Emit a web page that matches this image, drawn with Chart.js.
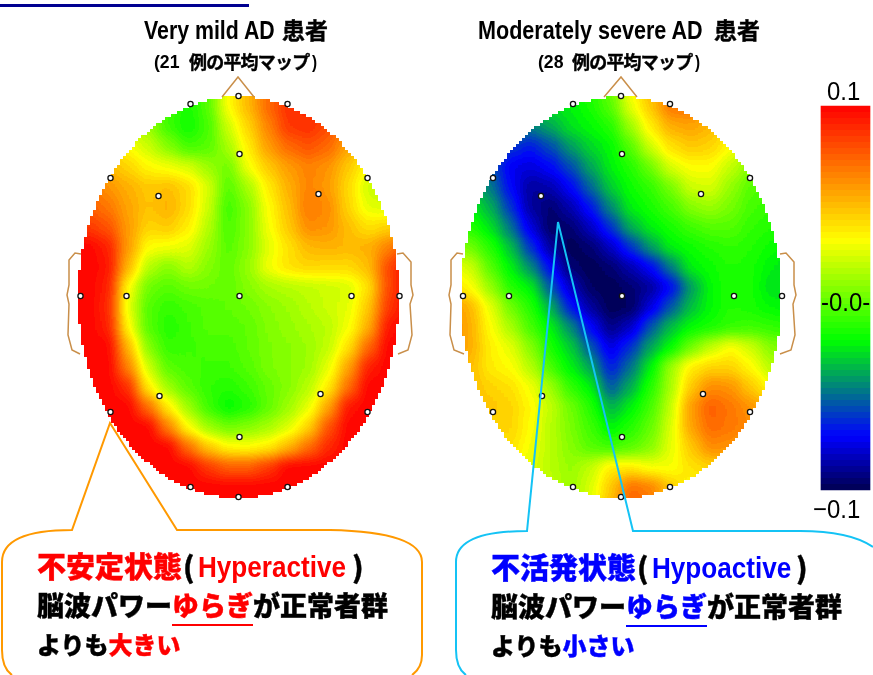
<!DOCTYPE html>
<html lang="ja">
<head>
<meta charset="utf-8">
<title>Very mild AD / Moderately severe AD</title>
<script src="https://cdn.jsdelivr.net/npm/chart.js@4"></script>
<style>
  html, body { margin: 0; background: #fff; }
  #wrap { position: relative; width: 873px; height: 675px; overflow: hidden; }
  canvas { position: absolute; left: 0; top: 0; }
  svg { position: absolute; left: 0; top: 0; }
  .t { position: absolute; white-space: nowrap; color: #000; line-height: 1;
       font-family: "Liberation Sans", sans-serif; font-weight: 700; }
  .l { transform-origin: 0 0; }
  .jp { font-family: "Noto Sans CJK JP", sans-serif; font-weight: 900; -webkit-text-stroke: 0.4px currentColor; }
  .red { color: #f00; }
  .blue { color: #00f; }
  .bar { font-weight: 400; font-size: 26px; transform: scaleX(.92); transform-origin: 0 0; }
  #rule { position: absolute; left: 0; top: 4px; width: 249px; height: 3px; background: #000090; }
</style>
</head>
<body>
<div id="wrap">
  <canvas id="map" width="873" height="675"></canvas>
  <svg width="873" height="675">
    <!-- nose and ears -->
    <g fill="none" stroke="#c98f4a" stroke-width="1.5">
      <path d="M222 97 L238 77 L254 97"/>
      <path d="M81 254 L75 253 L69 260 L69 285 L67 295 L69 304 L68 335 L72 350 L80 354"/>
      <path d="M397 254 L403 253 L411 262 L411 285 L413 295 L410 304 L412 335 L408 350 L398 354"/>
      <path d="M604 97 L621 77 L637 97"/>
      <path d="M463 254 L457 253 L451 260 L451 285 L449 295 L451 304 L450 335 L454 350 L464 354"/>
      <path d="M780 254 L786 253 L794 262 L794 285 L796 295 L793 304 L795 335 L791 350 L780 354"/>
    </g>
    <path d="M12 675 Q2 668 2 650 L2 562 Q2 530 72 530 L110 423 L177 530 L330 530 Q422 532 422 562 L422 655 Q422 668 412 675"
          fill="none" stroke="#f90" stroke-width="2"/>
    <path d="M466 675 Q456 668 456 650 L456 562 Q456 531 527 531 L558 222 L633 531 L800 531 Q850 531 873 547"
          fill="none" stroke="#14c3f5" stroke-width="2"/>
  </svg>
  <div id="rule"></div>

  <div class="t l" style="left:144px;top:17px;font-size:26px;transform:scaleX(.82)">Very mild AD</div>
  <div class="t jp" style="left:282px;top:18px;font-size:23px;font-weight:700">患者</div>
  <div class="t l" style="left:154px;top:53px;font-size:18px;transform:scaleX(.98)">(21</div>
  <div class="t jp" style="left:189px;top:52px;font-size:18px;font-weight:700;letter-spacing:-.8px">例の平均マップ</div>
  <div class="t l" style="left:312px;top:53px;font-size:18px;transform:scaleX(.85)">)</div>

  <div class="t l" style="left:478px;top:17px;font-size:26px;transform:scaleX(.83)">Moderately severe AD</div>
  <div class="t jp" style="left:714px;top:18px;font-size:23px;font-weight:700">患者</div>
  <div class="t l" style="left:538px;top:53px;font-size:18px;transform:scaleX(.98)">(28</div>
  <div class="t jp" style="left:572px;top:52px;font-size:18px;font-weight:700;letter-spacing:-.8px">例の平均マップ</div>
  <div class="t l" style="left:695px;top:53px;font-size:18px;transform:scaleX(.85)">)</div>

  <div class="t bar" style="left:827px;top:78px">0.1</div>
  <div class="t bar" style="left:821px;top:289px">-0.0-</div>
  <div class="t bar" style="left:813px;top:496px">−0.1</div>

  <div class="t jp red" style="left:37px;top:551px;font-size:29px">不安定状態</div>
  <div class="t jp" style="left:183px;top:551px;font-size:29px">(</div>
  <div class="t l red" style="left:198px;top:553px;font-size:29px;transform:scaleX(.9)">Hyperactive</div>
  <div class="t jp" style="left:352px;top:551px;font-size:29px">)</div>
  <div class="t jp" style="left:37px;top:591px;font-size:27px">脳波パワー<span class="red" style="border-bottom:2px solid #f00">ゆらぎ</span>が正常者群</div>
  <div class="t jp" style="left:37px;top:632px;font-size:24px">よりも<span class="red">大きい</span></div>

  <div class="t jp blue" style="left:491px;top:552px;font-size:29px">不活発状態</div>
  <div class="t jp" style="left:637px;top:552px;font-size:29px">(</div>
  <div class="t l blue" style="left:652px;top:554px;font-size:29px;transform:scaleX(.9)">Hypoactive</div>
  <div class="t jp" style="left:796px;top:552px;font-size:29px">)</div>
  <div class="t jp" style="left:491px;top:592px;font-size:27px">脳波パワー<span class="blue" style="border-bottom:2px solid #00f">ゆらぎ</span>が正常者群</div>
  <div class="t jp" style="left:491px;top:633px;font-size:24px">よりも<span class="blue">小さい</span></div>
</div>

<script>
// === DATA ===
// offsets of the grid cells from the middle of a head
const cellOffsetX = [-170,-150,-130,-110,-90,-70,-50,-30,-10,10,30,50,70,90,110,130,150,170];
const cellOffsetY = [-210,-190,-170,-150,-130,-110,-90,-70,-50,-30,-10,10,30,50,70,90,110,130,150,170,190,210];

// map values x 1000 (scale runs -100 to 100)
const veryMildValues = [
  [20,20,20,20,10,-10,-15,-5,30,50,70,85,85,80,60,40,30,30],
  [30,30,30,25,10,-10,-18,-5,30,50,72,88,88,80,60,40,30,30],
  [40,40,30,20,10,-10,-20,-8,20,42,65,85,88,80,60,40,30,30],
  [50,50,40,30,20,5,-8,-5,12,35,58,72,78,72,55,40,30,30],
  [60,60,50,42,32,28,22,10,0,28,45,58,65,60,45,30,20,20],
  [70,70,60,52,45,48,40,22,-5,12,35,52,65,58,40,20,15,15],
  [75,75,68,55,47,52,40,20,-10,5,30,48,68,62,42,25,22,25],
  [85,85,78,58,42,45,35,15,-8,5,28,45,62,60,48,38,42,50],
  [100,100,92,58,30,28,25,10,-5,5,24,38,50,52,50,52,65,80],
  [100,100,95,50,15,5,15,5,-3,8,28,38,42,40,40,48,80,100],
  [100,100,92,30,0,-5,0,0,-3,5,12,15,18,20,22,38,80,100],
  [100,100,90,25,-5,-12,-8,-5,-3,0,6,10,15,20,25,45,85,100],
  [100,100,92,32,-5,-15,-10,-5,-5,-3,4,8,12,16,28,52,95,100],
  [100,100,100,50,5,-12,-10,-8,-8,-3,3,6,10,18,38,72,100,100],
  [100,100,100,65,20,-4,-8,-10,-10,-5,3,6,10,25,55,92,100,100],
  [100,100,100,88,35,10,-4,-12,-15,-10,-2,5,15,35,70,100,100,100],
  [100,100,100,100,70,35,10,-10,-22,-15,-3,10,25,55,95,100,100,100],
  [100,100,100,100,100,65,30,10,0,5,12,22,42,78,100,100,100,100],
  [100,100,100,100,100,100,70,45,32,30,35,50,70,90,100,100,100,100],
  [100,100,100,100,100,100,100,85,75,75,85,100,100,100,100,100,100,100],
  [100,100,100,100,100,100,100,100,100,100,100,100,100,100,100,100,100,100],
  [100,100,100,100,100,100,100,100,100,100,100,100,100,100,100,100,100,100]
];

const modSevereValues = [
  [-15,-15,-15,-15,-18,-20,-20,-15,0,30,50,65,60,45,30,10,5,5],
  [-15,-15,-20,-25,-25,-28,-25,-18,-5,25,45,68,68,50,35,15,5,5],
  [-25,-25,-30,-40,-48,-40,-28,-22,-15,10,35,52,55,50,35,20,5,5],
  [-30,-35,-45,-62,-68,-58,-42,-30,-22,-5,20,38,45,42,30,15,5,5],
  [-35,-40,-55,-75,-78,-72,-58,-40,-25,-15,0,22,30,30,18,5,0,0],
  [-30,-35,-48,-72,-88,-85,-72,-52,-32,-20,-12,2,20,22,8,-5,-5,-5],
  [-20,-25,-38,-62,-88,-95,-85,-68,-45,-25,-18,-8,5,10,2,-8,-12,-12],
  [-10,-15,-28,-50,-78,-98,-95,-82,-62,-38,-25,-18,-10,-5,-5,-12,-15,-18],
  [8,0,-15,-35,-62,-88,-100,-95,-82,-62,-42,-25,-20,-15,-12,-15,-20,-25],
  [28,20,-5,-25,-45,-72,-95,-100,-95,-85,-72,-48,-25,-20,-15,-18,-25,-28],
  [42,30,8,-15,-25,-55,-82,-98,-100,-95,-88,-72,-42,-22,-15,-18,-28,-30],
  [62,50,25,0,-15,-38,-68,-88,-100,-98,-78,-55,-35,-22,-15,-18,-22,-25],
  [65,52,30,12,-8,-25,-45,-72,-92,-82,-55,-35,-22,-18,-12,-10,-12,-15],
  [62,52,34,25,5,-18,-32,-55,-78,-62,-40,-22,0,18,30,20,5,0],
  [55,48,35,30,15,-8,-25,-40,-68,-50,-25,10,35,42,42,32,15,15],
  [50,48,42,38,28,10,-12,-25,-55,-38,-15,12,45,62,60,45,30,30],
  [48,48,46,42,32,18,0,-15,-38,-25,-8,18,58,75,68,60,50,50],
  [45,45,42,42,30,15,3,-10,-25,-15,-2,22,55,72,68,62,50,50],
  [40,40,38,38,28,15,5,-5,-10,-5,5,25,45,62,60,50,40,40],
  [30,30,30,30,25,15,8,18,35,35,28,28,38,42,42,40,35,35],
  [25,25,25,25,22,18,10,22,45,70,65,45,30,35,35,35,35,35],
  [25,25,25,25,22,18,10,25,50,75,68,45,30,35,35,35,35,35]
];

// electrodes, offset from the middle of a head / plain y
const electrodeOffsetX = [0,-48,49,-128,129,-80,80,1,-158,-112,1,113,161,-79,82,-128,129,1,-48,49,0];
const electrodeY = [96,104,104,178,178,196,194,154,296,296,296,296,296,396,394,412,412,437,487,487,497];

// colour scale: value, colour
const scaleValues = [100, 30, -22, -72, -100];
const scaleColours = [[255,0,0],[255,255,0],[0,255,0],[0,0,255],[0,0,80]];

// === LAYOUT ===
const heads = [
  { cx: 238.5, cy: 297.3, values: veryMildValues },
  { cx: 621, cy: 297.3, values: modSevereValues }
];
const radiusX = 160.5;
const radiusY = 200.7;
const cellSize = 20;
const blurPx = 7;
const levels = 64;
const barTop = 106;
const barBottom = 490;

// === COLOURS ===
function colourFor(value) {
    for (let i = 0; i < scaleValues.length - 1; i++) {
        if (value >= scaleValues[i + 1]) {
            const t = (value - scaleValues[i + 1]) / (scaleValues[i] - scaleValues[i + 1]);
            return scaleColours[i + 1].map((c, k) => Math.round(c + (scaleColours[i][k] - c) * t));
        }
    }
    return scaleColours[scaleColours.length - 1];
}

// gray level -> banded colour, same 64 steps as the colour bar
const lut = [];
for (let g = 0; g < 256; g++) {
    const band = Math.min(levels - 1, Math.floor(g / 256 * levels));
    lut.push(colourFor(-100 + (band + 0.5) / levels * 200));
}

function grayFor(value) {
    const g = Math.round((value + 100) / 200 * 255);
    return `rgb(${g},${g},${g})`;
}

// === DATASETS ===
function heatDataset(head) {
    const data = [];
    const colours = [];
    head.values.forEach((row, r) => {
        row.forEach((value, c) => {
            data.push({ x: head.cx + cellOffsetX[c], y: head.cy + cellOffsetY[r] });
            colours.push(grayFor(value));
        });
    });
    return {
        label: "map",
        data: data,
        pointStyle: "rect",
        pointRadius: cellSize / 2 * Math.SQRT2 + 0.5,
        pointBorderWidth: 0,
        pointBackgroundColor: colours,
        order: 5
    };
}

function electrodeDataset(head) {
    return {
        label: "electrodes",
        data: electrodeOffsetX.map((dx, i) => ({ x: head.cx + dx, y: electrodeY[i] })),
        pointRadius: 2.6,
        pointBorderWidth: 1.3,
        pointBorderColor: "#111",
        pointBackgroundColor: "#fff",
        order: 1
    };
}

// the gray cells get blurred, then every pixel inside the head is painted from the lut
function paintHead(chart, head) {
    const ctx = chart.ctx;
    const left = Math.floor(head.cx - radiusX - 24);
    const top = Math.floor(head.cy - radiusY - 24);
    const w = Math.ceil(radiusX * 2 + 48);
    const h = Math.ceil(radiusY * 2 + 48);

    const copy = document.createElement("canvas");
    copy.width = w;
    copy.height = h;
    copy.getContext("2d").drawImage(ctx.canvas, left, top, w, h, 0, 0, w, h);

    ctx.save();
    ctx.setTransform(1, 0, 0, 1, 0, 0);
    ctx.clearRect(left - 30, top - 30, w + 60, h + 60);
    ctx.beginPath();
    ctx.rect(left, top, w, h);
    ctx.clip();
    ctx.filter = `blur(${blurPx}px)`;
    ctx.drawImage(copy, left, top);
    ctx.filter = "none";

    const img = ctx.getImageData(left, top, w, h);
    for (let py = 0; py < h; py++) {
        for (let px = 0; px < w; px++) {
            const i = (py * w + px) * 4;
            // blocky edge like the source bitmap
            const bx = (Math.floor((left + px) / 3) * 3 + 1.5 - head.cx) / radiusX;
            const by = (Math.floor((top + py) / 3) * 3 + 1.5 - head.cy) / radiusY;
            if (bx * bx + by * by > 1) {
                img.data[i + 3] = 0;
                continue;
            }
            const rgb = lut[img.data[i]];
            img.data[i] = rgb[0];
            img.data[i + 1] = rgb[1];
            img.data[i + 2] = rgb[2];
            img.data[i + 3] = 255;
        }
    }
    ctx.putImageData(img, left, top);
    ctx.restore();
}

const headPaint = {
    id: "headPaint",
    afterDatasetDraw(chart, args) {
        if (args.index < heads.length) paintHead(chart, heads[args.index]);
    }
};

// colour bar fill, top = 0.1
function barFill(context) {
    const grad = context.chart.ctx.createLinearGradient(0, barTop, 0, barBottom);
    for (let k = 0; k < levels; k++) {
        const rgb = colourFor(100 - (k + 0.5) / levels * 200);
        const css = `rgb(${rgb[0]},${rgb[1]},${rgb[2]})`;
        grad.addColorStop(k / levels, css);
        grad.addColorStop((k + 1) / levels, css);
    }
    return grad;
}

// === CHART ===
// y scale for the bar, lined up with the bar's place on the page
const perPixel = 0.2 / (barBottom - barTop);

new Chart(document.getElementById("map"), {
    type: "scatter",
    data: {
        datasets: [
            heatDataset(heads[0]),
            heatDataset(heads[1]),
            electrodeDataset(heads[0]),
            electrodeDataset(heads[1]),
            {
                type: "bar",
                label: "scale",
                data: [{ x: 845.5, y: [-0.1, 0.1] }],
                yAxisID: "yBar",
                barThickness: 49,
                grouped: false,
                backgroundColor: barFill,
                order: 2
            }
        ]
    },
    options: {
        responsive: false,
        animation: false,
        layout: { padding: 0, autoPadding: false },
        events: [],
        plugins: { legend: { display: false }, tooltip: { enabled: false } },
        scales: {
            x: { type: "linear", min: 0, max: 873, display: false, offset: false },
            y: { type: "linear", min: 0, max: 675, reverse: true, display: false },
            yBar: {
                type: "linear",
                display: false,
                min: -0.1 - (675 - barBottom) * perPixel,
                max: 0.1 + barTop * perPixel
            }
        }
    },
    plugins: [headPaint]
});
</script>
</body>
</html>
